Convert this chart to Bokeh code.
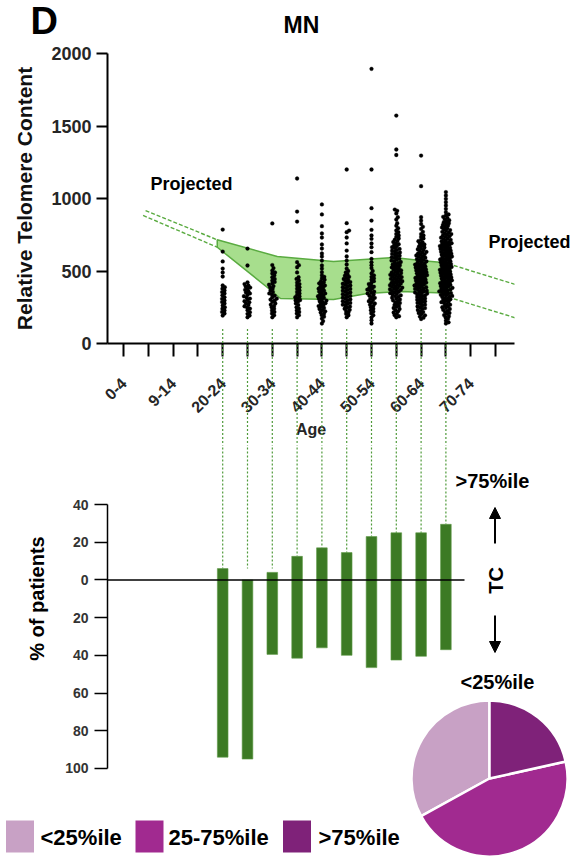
import numpy as np
from bokeh.plotting import figure
from bokeh.models import (Range1d, FixedTicker, Arrow, NormalHead, ColumnDataSource)
from bokeh.layouts import column
from bokeh.embed import file_html
from bokeh.resources import INLINE
from bokeh.core.properties import value

# ---------------- data ----------------
age_ticks = list(range(16))
age_tick_labels = ["0-4", "", "9-14", "", "20-24", "", "30-34", "", "40-44", "",
                   "50-54", "", "60-64", "", "70-74", ""]
groups = ["20-24", "25-29", "30-34", "35-39", "40-44", "45-49", "50-54", "55-59", "60-64", "65-69"]
group_pos = [4, 5, 6, 7, 8, 9, 10, 11, 12, 13]

tc_20_24 = [786, 634, 566, 517, 490, 462, 400, 388, 378, 366, 355, 345, 332, 319, 308, 297, 286,
            276, 262, 250, 240, 228, 218, 207, 193]
tc_25_29 = [655, 538, 422, 410, 400, 393, 386, 379, 370, 361, 352, 345, 336, 326, 318, 310, 300,
            292, 284, 276, 266, 257, 249, 241, 230, 216, 205, 193, 181]
tc_30_34 = [828, 541, 520, 503, 490, 483, 470, 457, 445, 434, 425, 414, 405, 396, 388, 378, 366,
            356, 345, 338, 330, 319, 310, 303, 297, 288, 276, 268, 259, 250, 240, 228, 218, 207,
            195, 181]
tc_35_39 = [1138, 910, 841, 561, 540, 526, 490, 457, 445, 434, 420, 410, 400, 388, 378, 366, 356,
            345, 335, 325, 319, 310, 300, 297, 288, 276, 265, 250, 240, 228, 218, 207, 195, 181]
tc_40_44 = [959, 890, 809, 759, 731, 683, 655, 621, 600, 572, 538, 517, 492, 470, 460, 450, 440,
            430, 422, 415, 408, 400, 392, 385, 378, 371, 365, 358, 352, 345, 338, 332, 326, 320,
            314, 308, 302, 296, 290, 284, 278, 272, 265, 258, 252, 245, 238, 230, 222, 214, 205,
            196, 185, 172, 155, 138]
tc_45_49 = [1200, 830, 779, 768, 731, 690, 641, 600, 572, 545, 517, 500, 490, 476, 468, 460, 452,
            445, 438, 430, 424, 418, 412, 406, 400, 394, 388, 382, 376, 370, 364, 358, 352, 346,
            340, 334, 328, 322, 316, 310, 304, 298, 292, 286, 280, 274, 268, 262, 255, 248, 240,
            232, 224, 215, 205, 195, 181]
tc_50_54 = [1894, 1200, 933, 848, 784, 745, 722, 690, 664, 630, 584, 560, 540, 520, 500, 483, 470,
            460, 450, 440, 430, 420, 410, 400, 392, 385, 378, 372, 366, 358, 350, 345, 338, 330,
            322, 315, 308, 300, 292, 284, 276, 268, 260, 250, 240, 230, 220, 208, 195, 180, 160, 138]
tc_55_59 = [1572, 1338, 1300, 924, 915, 897, 871, 855, 830, 812, 795, 780, 768, 756, 745, 735, 725,
            716, 708, 700, 692, 685, 678, 671, 664, 658, 652, 646, 640, 634, 628, 623, 618, 612,
            606, 600, 595, 590, 584, 578, 572, 567, 562, 556, 550, 545, 540, 535, 530, 525, 520,
            515, 510, 505, 500, 495, 490, 486, 482, 478, 474, 470, 466, 462, 458, 454, 450, 446,
            442, 438, 434, 430, 426, 422, 418, 414, 410, 406, 402, 398, 394, 390, 386, 382, 378,
            374, 370, 366, 362, 357, 352, 347, 342, 337, 332, 327, 322, 316, 310, 304, 298, 292,
            286, 280, 273, 266, 259, 252, 245, 238, 230, 222, 214, 205, 196, 188, 181]
tc_60_64 = [1296, 1085, 871, 848, 824, 805, 790, 770, 755, 745, 735, 725, 715, 706, 698, 690, 683,
            676, 669, 662, 656, 650, 644, 638, 632, 627, 622, 617, 612, 607, 602, 597, 592, 587,
            582, 577, 572, 567, 562, 557, 552, 548, 544, 540, 536, 532, 528, 524, 520, 516, 512,
            508, 504, 500, 496, 492, 488, 484, 480, 476, 472, 468, 464, 460, 456, 452, 448, 444,
            440, 436, 432, 428, 424, 420, 416, 412, 408, 404, 400, 396, 392, 388, 384, 380, 376,
            372, 368, 364, 360, 356, 352, 348, 344, 340, 336, 331, 326, 321, 316, 311, 306, 301,
            296, 291, 286, 280, 274, 268, 262, 256, 250, 244, 238, 231, 224, 217, 210, 202, 194,
            186, 178, 169]
tc_65_69 = [1044, 1021, 998, 975, 952, 929, 906, 890, 883, 874, 866, 858, 850, 843, 837, 830, 824,
            818, 812, 806, 800, 794, 788, 782, 776, 770, 765, 760, 755, 750, 745, 740, 735, 730,
            725, 720, 715, 710, 705, 700, 696, 692, 688, 684, 680, 676, 672, 668, 664, 660, 656,
            652, 648, 644, 640, 636, 632, 628, 624, 620, 616, 612, 608, 604, 600, 596, 592, 588,
            584, 580, 576, 572, 568, 564, 560, 556, 552, 548, 544, 540, 536, 532, 528, 524, 520,
            516, 512, 508, 504, 500, 496, 492, 488, 484, 480, 476, 472, 468, 464, 460, 456, 452,
            448, 444, 440, 436, 432, 428, 424, 420, 416, 412, 408, 404, 400, 396, 392, 388, 384,
            380, 376, 372, 368, 364, 360, 356, 352, 348, 344, 340, 336, 332, 328, 324, 320, 315,
            310, 305, 300, 295, 290, 285, 280, 274, 268, 262, 256, 250, 244, 238, 232, 225, 218,
            211, 204, 196, 188, 180, 170, 158, 146, 138]
tc_values = [tc_20_24, tc_25_29, tc_30_34, tc_35_39, tc_40_44, tc_45_49, tc_50_54,
             tc_55_59, tc_60_64, tc_65_69]

band_upper_x = [3.78, 6.2, 8.47, 10.9, 11.98, 13.2]
band_upper = [715, 600, 566, 593, 572, 554]
band_lower_x = [3.78, 5.79, 6.33, 8.47, 9.83, 11.17, 13.2]
band_lower = [664, 388, 310, 303, 345, 359, 347]
proj_left_hi_x, proj_left_hi = [0.89, 3.78], [917, 715]
proj_left_lo_x, proj_left_lo = [0.79, 3.78], [883, 664]
proj_right_x = [13.32, 15.8]
proj_right_hi = [538, 407]
proj_right_lo = [308, 177]

pct_above = [6, 0, 4, 12.5, 17, 14.5, 23, 25, 25, 29.5]     # >75%ile
pct_below = [94, 95, 39.5, 41.5, 36, 40, 46.5, 42.5, 40.5, 37]  # <25%ile

pie_labels = ["<25%ile", "25-75%ile", ">75%ile"]
pie_pct = [33, 45.5, 21.5]
pie_colors = ["#c8a1c5", "#a12a90", "#7f2279"]

pct_ticks = [40, 20, 0, -20, -40, -60, -80, -100]

# ---------------- styling / layout constants ----------------
FONT = "Liberation Sans"
GREEN_BAR = "#3c7a24"
GREEN_LINE = "#5aab41"
GREEN_FILL = "#a7de8d"
DASH_GREEN = "#4f9a3a"

PX_PER_X = 24.8
X0_PX = 123            # page x of the first age tick
PX_PER_Y = 72.5 / 500.0
W = 573
TOP_H = 445
BOT_H = 858 - TOP_H
F_L, F_R = 107, 514    # shared frame left/right (column aligns the frames)
F_T, F_B = 53, 343     # top frame top/bottom


def swarm(vals, d=2.7, step=0.3):
    placed = []
    res = [0.0] * len(vals)
    order = sorted(range(len(vals)), key=lambda i: vals[i])
    for i in order:
        y = vals[i] * PX_PER_Y
        k = 0
        cand = 0.0
        near = [(px, py) for (px, py) in placed if abs(py - y) < d]
        while True:
            if all((cand - px) ** 2 + (y - py) ** 2 >= d * d for px, py in near):
                break
            k += 1
            cand = ((k + 1) // 2) * step * (1 if k % 2 else -1)
        placed.append((cand, y))
        res[i] = cand / PX_PER_X
    return res


def add_texts(fig, items, size, align="left", angle=0.0):
    """items: (text, page_x, page_y of text middle) in page pixels (layout positions)."""
    r = fig.text(x=[it[1] for it in items], y=[-it[2] for it in items],
                 text=[it[0] for it in items], angle=angle,
                 x_range_name="page", y_range_name="page",
                 text_font=value(FONT), text_font_style="bold", text_font_size=size,
                 text_align=align, text_baseline="middle", text_color="black")
    r.level = "overlay"
    return r


def xr():
    return Range1d((F_L - X0_PX) / PX_PER_X, (F_R - X0_PX) / PX_PER_X)


# ---------------- top figure ----------------
def ty(py):
    return (F_B - py) / PX_PER_Y


top = figure(width=W, height=TOP_H, x_range=xr(), y_range=Range1d(0, 2000),
             output_backend="svg", toolbar_location=None, title=None,
             min_border_left=F_L, min_border_right=W - F_R, min_border_top=F_T,
             min_border_bottom=TOP_H - F_B)
top.extra_x_ranges = {"page": Range1d(F_L, F_R)}
top.extra_y_ranges = {"page": Range1d(-F_B, -F_T)}
top.grid.visible = False
top.outline_line_color = None

xa = top.xaxis[0]
xa.ticker = FixedTicker(ticks=age_ticks)
xa.major_label_overrides = {t: l for t, l in zip(age_ticks, age_tick_labels)}
xa.major_label_orientation = np.pi / 4
xa.major_tick_out = 13
xa.major_tick_in = 0
xa.minor_tick_out = 0
xa.minor_tick_in = 0
xa.axis_line_width = 2
xa.major_tick_line_width = 2
xa.major_label_text_font = FONT
xa.major_label_text_font_style = "bold"
xa.major_label_text_font_size = "16px"
xa.major_label_text_color = "#262626"
xa.major_label_standoff = 24
xa.axis_label = "Age"
xa.axis_label_text_font = FONT
xa.axis_label_text_font_style = "bold"
xa.axis_label_text_font_size = "16px"
xa.axis_label_text_color = "#262626"
xa.axis_label_standoff = 0

ya = top.yaxis[0]
ya.ticker = FixedTicker(ticks=[0, 500, 1000, 1500, 2000])
ya.major_tick_out = 11
ya.major_tick_in = 0
ya.minor_tick_out = 0
ya.minor_tick_in = 0
ya.axis_line_width = 2
ya.major_tick_line_width = 2
ya.major_label_text_font = FONT
ya.major_label_text_font_style = "bold"
ya.major_label_text_font_size = "18px"
ya.major_label_text_color = "#262626"
ya.major_label_standoff = 5
ya.axis_label = "Relative Telomere Content"
ya.axis_label_text_font = FONT
ya.axis_label_text_font_style = "bold"
ya.axis_label_text_font_size = "21px"
ya.axis_label_text_color = "#111111"
ya.axis_label_standoff = 12

# band
band_xs = band_upper_x + band_lower_x[::-1]
band_ys = band_upper + band_lower[::-1]
top.patch(band_xs, band_ys, fill_color=GREEN_FILL, line_color=GREEN_LINE, line_width=1.5)

# projected lines
for xs, ys in [(proj_left_hi_x, proj_left_hi), (proj_left_lo_x, proj_left_lo),
               (proj_right_x, proj_right_hi), (proj_right_x, proj_right_lo)]:
    top.line(xs, ys, line_color=GREEN_LINE, line_width=1.4, line_dash="4 2")

# scatter
sx, sy = [], []
for pos, vals in zip(group_pos, tc_values):
    offs = swarm(vals)
    sx += [pos + o for o in offs]
    sy += list(vals)
top.scatter(sx, sy, size=3.8, fill_color="black", line_color="black", line_width=0.3)

# connectors (top part)
conn_top = top.segment(x0=group_pos, y0=[100] * len(group_pos), x1=group_pos,
                       y1=[ty(TOP_H + 2)] * len(group_pos), line_color=DASH_GREEN,
                       line_width=1.2, line_dash="2 2")
conn_top.level = "overlay"

add_texts(top, [("D", 30, 20)], "38px")
add_texts(top, [("MN", 301, 24.5)], "23px", align="center")
add_texts(top, [("Projected", 150, 183), ("Projected", 488, 241)], "18px")

# ---------------- bottom figure ----------------
B_TOP = TOP_H


def by(py):
    return 40 + (504 - py) / 1.8857


bot = figure(width=W, height=BOT_H, x_range=xr(), y_range=Range1d(by(858), by(B_TOP)),
             output_backend="svg", toolbar_location=None, title=None,
             min_border_left=F_L, min_border_right=W - F_R, min_border_top=0,
             min_border_bottom=0)
bot.extra_x_ranges = {"page": Range1d(F_L, F_R)}
bot.extra_y_ranges = {"page": Range1d(-858, -B_TOP)}
bot.grid.visible = False
bot.outline_line_color = None
bot.xaxis.visible = False

yb = bot.yaxis[0]
yb.bounds = (-100, 40)
yb.ticker = FixedTicker(ticks=pct_ticks)
yb.major_label_overrides = {t: str(abs(t)) for t in pct_ticks}
yb.major_tick_out = 13
yb.major_tick_in = 0
yb.minor_tick_out = 0
yb.minor_tick_in = 0
yb.axis_line_width = 1.5
yb.major_tick_line_width = 1.5
yb.major_label_text_font = FONT
yb.major_label_text_font_style = "bold"
yb.major_label_text_font_size = "14px"
yb.major_label_text_color = "#333333"
yb.major_label_standoff = 6

# connectors (bottom part)
conn_bot = bot.segment(x0=group_pos, y0=[by(B_TOP - 2)] * len(group_pos), x1=group_pos,
                       y1=[max(v, 6) for v in pct_above], line_color=DASH_GREEN, line_width=1.2,
                       line_dash="2 2")
conn_bot.level = "overlay"

bot.vbar(x=group_pos, top=pct_above, bottom=[-v for v in pct_below], width=0.43,
         fill_color=GREEN_BAR, line_color="#5f9a48", line_width=0.6)
bot.segment(x0=[(F_L - X0_PX) / PX_PER_X], y0=[0], x1=[(464 - X0_PX) / PX_PER_X], y1=[0],
            line_color="black", line_width=1.5)

add_texts(bot, [(">75%ile", 492, 480), ("<25%ile", 497, 681)], "20px", align="center")
add_texts(bot, [("TC", 495, 580)], "20px", align="center", angle=np.pi / 2)
add_texts(bot, [("% of patients", 36, 598)], "20px", align="center", angle=np.pi / 2)
for y0, y1 in [(543, 507), (615, 652)]:
    bot.add_layout(Arrow(x_start=494.5, y_start=-y0, x_end=494.5, y_end=-y1,
                         x_range_name="page", y_range_name="page",
                         line_width=2, line_color="black",
                         end=NormalHead(size=11, fill_color="black", line_color="black")))

# pie (centre / radius are layout positions in page pixels)
PIE_CX, PIE_CY, PIE_R = 489, 778, 78
starts, ends = [0.0] * 3, [0.0] * 3
cum = 0.0
for k in [2, 1, 0]:
    a_hi = np.pi / 2 - cum * 2 * np.pi / 100
    cum += pie_pct[k]
    a_lo = np.pi / 2 - cum * 2 * np.pi / 100
    starts[k], ends[k] = a_lo, a_hi
pie_src = ColumnDataSource(dict(label=pie_labels, pct=pie_pct, color=pie_colors,
                                start=starts, end=ends))
pie = bot.wedge(x=PIE_CX, y=-PIE_CY, radius=PIE_R, start_angle="start", end_angle="end",
                fill_color="color", line_color="white", line_width=2.5, source=pie_src,
                x_range_name="page", y_range_name="page")
pie.level = "overlay"

# legend (manual, drawn outside the frame)
leg_key_x = [19.5, 149, 296.5]
leg_text_x = [40, 168, 318]
leg_y = 836
keys = bot.rect(x=leg_key_x, y=[-leg_y] * 3, width=28, height=32, fill_color=pie_colors,
                line_color=None, x_range_name="page", y_range_name="page")
keys.level = "overlay"
add_texts(bot, [(l, x, leg_y + 1) for l, x in zip(pie_labels, leg_text_x)], "22px")

layout = column(top, bot, spacing=0)
open("out.html", "w").write(file_html(layout, INLINE))
